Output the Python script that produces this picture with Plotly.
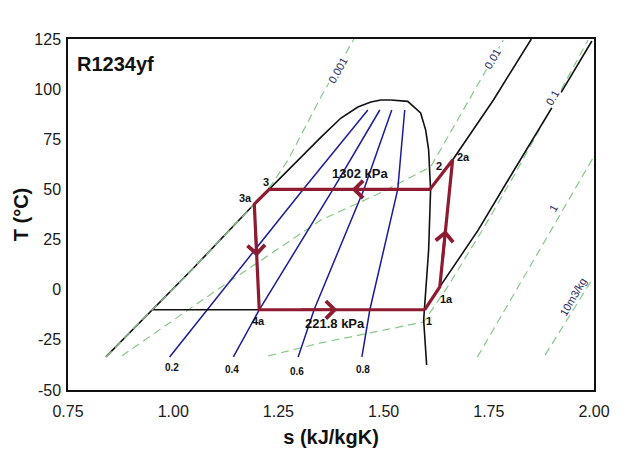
import plotly.graph_objects as go

# ---------------- data ----------------
# saturation dome
liq_s = [0.840, 0.9512, 1.0436, 1.1927, 1.2258, 1.304, 1.3513, 1.3987, 1.4389, 1.4697, 1.4934, 1.517]
liq_T = [-33.5, -10.0, 9.8, 42.7, 49.7, 66.2, 76.1, 85.6, 91.1, 93.6, 94.6, 94.6]
vap_s = [1.517, 1.5573, 1.588, 1.600, 1.607, 1.6117, 1.607, 1.5975, 1.5952, 1.6023]
vap_T = [94.6, 93.9, 88.1, 79.6, 69.7, 49.7, 19.8, -5.1, -15.1, -37.5]

# quality lines
q_labels = ["0.2", "0.4", "0.6", "0.8"]
q_T = [-33.5, -10.0, 50.0, 89.6]
q_s = {
    "0.2": [0.9915, 1.0814, 1.3087, 1.4626],
    "0.4": [1.1430, 1.2045, 1.3797, 1.4910],
    "0.6": [1.2969, 1.3348, 1.4531, 1.5194],
    "0.8": [1.4484, 1.4673, 1.5336, 1.5502],
}

# isobars (black)
lowp_2ph_s = [0.9512, 1.2045]
lowp_2ph_T = [-10.0, -10.0]
lowp_sh_s = [1.6335, 1.725, 1.806, 1.9006, 1.927, 1.995]
lowp_sh_T = [1.4, 29.8, 58.2, 90.6, 100.1, 124.0]
highp_sh_s = [1.664, 1.761, 1.851]
highp_sh_T = [64.7, 94.6, 125.0]
isobar_labels = ["1302 kPa", "221.8 kPa"]
isobar_label_s = [1.4437, 1.3845]
isobar_label_T = [50.0, -10.0]

# isochores (green dashed)
v0001_s = [0.840, 0.9512, 1.0436, 1.1927, 1.233, 1.273, 1.351, 1.4295]
v0001_T = [-33.5, -10.0, 9.8, 42.7, 52.2, 64.7, 96.1, 125.0]
v001_s = [0.878, 1.1146, 1.3513, 1.4815, 1.6117, 1.697, 1.7846]
v001_T = [-33.0, 1.4, 34.8, 47.2, 61.2, 92.6, 124.5]
v01_s = [1.226, 1.351, 1.5952, 1.652, 1.7349, 1.8106, 1.8935, 1.9858]
v01_T = [-33.0, -26.5, -16.1, 1.4, 29.8, 57.2, 88.6, 124.5]
v1_s = [1.723, 1.8248, 2.0]
v1_T = [-33.5, 3.4, 66.5]
v10_s = [1.884, 1.995]
v10_T = [-32.5, 4.9]
iso_labels = ["0.001", "0.01", "0.1", "1", "10m3/kg"]
iso_label_s = [1.3916, 1.7585, 1.9006, 1.903, 1.950]
iso_label_T = [109.5, 115.0, 95.6, 40.8, -3.6]
iso_label_bg = [True, True, True, False, False]

# refrigeration cycle
cyc_names = ["1", "1a", "2a", "2", "3", "3a", "4a"]
cyc_s = [1.5975, 1.6335, 1.664, 1.610, 1.2282, 1.1927, 1.2045]
cyc_T = [-10.0, 1.4, 64.7, 50.0, 50.0, 42.7, -10.0]
cyc_label_dx = [4, 7, 11, 9, -3, -9, -1]
cyc_label_dy = [-11, -12, 3, 23, 7, 6, -11]

# flow arrows (tip and tail along the cycle)
arrow_tip_s = [1.424, 1.1986, 1.390, 1.6472]
arrow_tip_T = [50.0, 16.5, -10.0, 29.8]
arrow_tail_s = [1.50, 1.1955, 1.30, 1.6401]
arrow_tail_T = [50.0, 30.0, -10.0, 15.0]

# axis ticks
x_ticks = [0.75, 1.00, 1.25, 1.50, 1.75, 2.00]
x_ticklabels = ["0.75", "1.00", "1.25", "1.50", "1.75", "2.00"]
y_ticks = [-50, -25, 0, 25, 50, 75, 100, 125]
y_ticklabels = ["-50", "-25", "0", "25", "50", "75", "100", "125"]

# ---------------- styles ----------------
BLACK = "#111111"
BLUE = "#1c1c9a"
GREEN = "#86c986"
RED = "#8e1b30"
FONT = "Arial, Liberation Sans, sans-serif"

fig = go.Figure()

def add_line(xs, ys, color, width, dash="solid"):
    fig.add_trace(go.Scatter(x=xs, y=ys, mode="lines",
                             line=dict(color=color, width=width, dash=dash),
                             hoverinfo="skip", showlegend=False))

# isochores first (underneath)
GD = "8px,5px"
add_line(v001_s, v001_T, GREEN, 1.2, GD)
add_line(v01_s, v01_T, GREEN, 1.2, GD)
add_line(v1_s, v1_T, GREEN, 1.2, GD)
add_line(v10_s, v10_T, GREEN, 1.2, GD)

# quality lines
for q in q_labels:
    add_line(q_s[q], q_T, BLUE, 1.5)

# dome + isobars
add_line(liq_s, liq_T, BLACK, 1.6)
add_line(vap_s, vap_T, BLACK, 1.6)
add_line(lowp_2ph_s, lowp_2ph_T, BLACK, 1.6)
add_line(lowp_sh_s, lowp_sh_T, BLACK, 1.6)
add_line(highp_sh_s, highp_sh_T, BLACK, 1.6)

# 0.001 isochore over the liquid line (greenish tint as in the reference)
add_line(v0001_s, v0001_T, GREEN, 1.2, GD)

# cycle
add_line(cyc_s + [cyc_s[0]], cyc_T + [cyc_T[0]], RED, 3.2)

annotations = []
for i in range(len(arrow_tip_s)):
    annotations.append(dict(x=arrow_tip_s[i], y=arrow_tip_T[i], ax=arrow_tail_s[i], ay=arrow_tail_T[i],
                            xref="x", yref="y", axref="x", ayref="y", text="", showarrow=True,
                            arrowhead=4, arrowsize=1.3, arrowwidth=2.6, arrowcolor=RED, standoff=0))

for n, s, T, dx, dy in zip(cyc_names, cyc_s, cyc_T, cyc_label_dx, cyc_label_dy):
    annotations.append(dict(x=s, y=T, xref="x", yref="y", text="<b>%s</b>" % n, showarrow=False,
                            xshift=dx, yshift=dy, font=dict(family=FONT, size=11, color="#111")))

for t, s, T, dy in zip(isobar_labels, isobar_label_s, isobar_label_T, [16, -14]):
    annotations.append(dict(x=s, y=T, xref="x", yref="y", text="<b>%s</b>" % t, showarrow=False,
                            yshift=dy, font=dict(family=FONT, size=13, color="#111")))

q_dx = [2, -1, -1, 1]
q_dy = [-11, -13, -15, -13]
for q, dx, dy in zip(q_labels, q_dx, q_dy):
    annotations.append(dict(x=q_s[q][0], y=q_T[0], xref="x", yref="y", text="<b>%s</b>" % q, showarrow=False,
                            xshift=dx, yshift=dy, font=dict(family=FONT, size=10, color="#111")))

for t, s, T, bg in zip(iso_labels, iso_label_s, iso_label_T, iso_label_bg):
    annotations.append(dict(x=s, y=T, xref="x", yref="y", text=t, showarrow=False, textangle=-60,
                            bgcolor="white" if bg else None, borderpad=1,
                            font=dict(family=FONT, size=11, color="#2b2b5e")))

annotations.append(dict(x=0, y=1, xref="paper", yref="paper", xanchor="left", yanchor="top",
                        xshift=7, yshift=-12, text="<b>R1234yf</b>", showarrow=False,
                        font=dict(family=FONT, size=20, color="#111")))

# the page adds an 8px body margin, so margins are reduced by 8px on left/top
fig.update_layout(
    width=640, height=454,
    margin=dict(l=58, r=54, t=31, b=72),
    paper_bgcolor="white", plot_bgcolor="white",
    font=dict(family=FONT, color="#111"),
    showlegend=False,
    annotations=annotations,
    xaxis=dict(range=[0.75, 2.0], tickvals=x_ticks, ticktext=x_ticklabels,
               showgrid=False, zeroline=False, showline=True, linecolor="#111", linewidth=1.5,
               mirror=True, ticks="", ticklabelstandoff=6,
               tickfont=dict(family=FONT, size=16, color="#1a1a1a"),
               title=dict(text="<b>s (kJ/kgK)</b>", font=dict(family=FONT, size=20, color="#111"), standoff=11)),
    yaxis=dict(range=[-50, 125], tickvals=y_ticks, ticktext=y_ticklabels,
               showgrid=False, zeroline=False, showline=True, linecolor="#111", linewidth=1.5,
               mirror=True, ticks="", ticklabelstandoff=2,
               tickfont=dict(family=FONT, size=16, color="#1a1a1a"),
               title=dict(text="<b>T (°C)</b>", font=dict(family=FONT, size=20, color="#111"), standoff=0)),
)

fig.write_html("out.html")
